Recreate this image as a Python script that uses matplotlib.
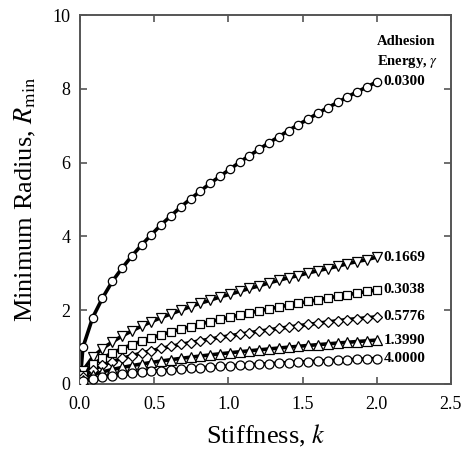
import numpy as np
import matplotlib
matplotlib.use("Agg")
import matplotlib.pyplot as plt

plt.rcParams["font.family"] = ["Liberation Serif", "DejaVu Serif"]
plt.rcParams["mathtext.fontset"] = "stix"

# stiffness values for the sampled points
k = [0.0, 0.02, 0.086, 0.152, 0.218, 0.284, 0.35, 0.416, 0.482, 0.548, 0.614,
     0.68, 0.746, 0.812, 0.878, 0.944, 1.01, 1.076, 1.142, 1.208, 1.274,
     1.34, 1.406, 1.472, 1.538, 1.604, 1.67, 1.736, 1.802, 1.868, 1.934, 2.0]

gamma_labels = ["0.0300", "0.1669", "0.3038", "0.5776", "1.3990", "4.0000"]

r_0300 = [0, 0.99, 1.80, 2.33, 2.78, 3.14, 3.47, 3.77, 4.05, 4.32, 4.56,
          4.80, 5.02, 5.23, 5.44, 5.63, 5.82, 6.01, 6.19, 6.36, 6.54,
          6.70, 6.87, 7.03, 7.18, 7.34, 7.49, 7.63, 7.78, 7.92, 8.05, 8.19]
r_1669 = [0, 0.36, 0.73, 0.96, 1.14, 1.30, 1.44, 1.57, 1.69, 1.80, 1.90,
          2.00, 2.10, 2.19, 2.27, 2.36, 2.43, 2.51, 2.59, 2.66, 2.74,
          2.81, 2.88, 2.94, 3.01, 3.07, 3.13, 3.19, 3.26, 3.32, 3.37, 3.44]
r_3038 = [0, 0.255, 0.529, 0.703, 0.842, 0.961, 1.067, 1.163, 1.252, 1.335,
          1.413, 1.487, 1.557, 1.625, 1.690, 1.752, 1.812, 1.870, 1.927,
          1.982, 2.035, 2.087, 2.138, 2.188, 2.236, 2.284, 2.330, 2.376,
          2.420, 2.464, 2.508, 2.55]
r_5776 = [0, 0.184, 0.382, 0.507, 0.608, 0.693, 0.770, 0.839, 0.903, 0.963,
          1.020, 1.073, 1.124, 1.172, 1.219, 1.264, 1.307, 1.350, 1.390,
          1.430, 1.469, 1.506, 1.543, 1.579, 1.613, 1.648, 1.681, 1.714,
          1.747, 1.770, 1.795, 1.82]
r_1399 = [0, 0.119, 0.247, 0.328, 0.393, 0.448, 0.498, 0.543, 0.584, 0.623,
          0.659, 0.694, 0.727, 0.758, 0.789, 0.818, 0.846, 0.873, 0.899,
          0.925, 0.950, 0.974, 0.998, 1.021, 1.044, 1.066, 1.087, 1.109,
          1.130, 1.150, 1.170, 1.19]
r_4000 = [0, 0.069, 0.143, 0.190, 0.228, 0.260, 0.289, 0.315, 0.339, 0.361,
          0.382, 0.402, 0.421, 0.440, 0.457, 0.474, 0.490, 0.506, 0.521,
          0.536, 0.551, 0.565, 0.579, 0.592, 0.605, 0.618, 0.631, 0.643,
          0.655, 0.667, 0.679, 0.69]

series = [r_0300, r_1669, r_3038, r_5776, r_1399, r_4000]
markers = ["o", "v", "s", "D", "^", "o"]
msizes = [6, 6.5, 5.5, 5.5, 6.5, 6.5]

fig = plt.figure(figsize=(4.62, 4.51), dpi=100)
ax = fig.add_axes([0.173, 0.1486, 0.803, 0.818])

for r, m, ms, lab in zip(series, markers, msizes, gamma_labels):
    ax.plot(k, r, color="black", linewidth=2.6, zorder=2)
    ax.plot(k, r, linestyle="none", marker=m, markersize=ms,
            markerfacecolor="white", markeredgecolor="black",
            markeredgewidth=0.9, zorder=3)
    ax.annotate(lab, xy=(k[-1], r[-1]), xytext=(5, 0),
                textcoords="offset points", ha="left", va="center",
                fontsize=11, fontweight="bold")

ax.text(2.0, 8.98, "Adhesion\nEnergy, $\\gamma$", ha="left", va="center",
        fontsize=10.5, fontweight="bold", linespacing=1.45)

ax.set_xlim(0, 2.5)
ax.set_ylim(0, 10)
ax.set_xticks([0.0, 0.5, 1.0, 1.5, 2.0, 2.5])
ax.set_xticklabels(["0.0", "0.5", "1.0", "1.5", "2.0", "2.5"])
ax.set_yticks([0, 2, 4, 6, 8, 10])
ax.tick_params(direction="in", top=True, right=True, length=5, width=1.2,
               color="#555555", labelsize=13, pad=7)
ax.tick_params(axis="x", pad=9)
for s in ax.spines.values():
    s.set_color("#555555")
    s.set_linewidth(1.4)

ax.set_xlabel("Stiffness, $k$", fontsize=19, labelpad=7)
ax.set_ylabel("Minimum Radius, $R_{\\mathrm{min}}$", fontsize=19, labelpad=10)

fig.savefig("out.png", dpi=100)
